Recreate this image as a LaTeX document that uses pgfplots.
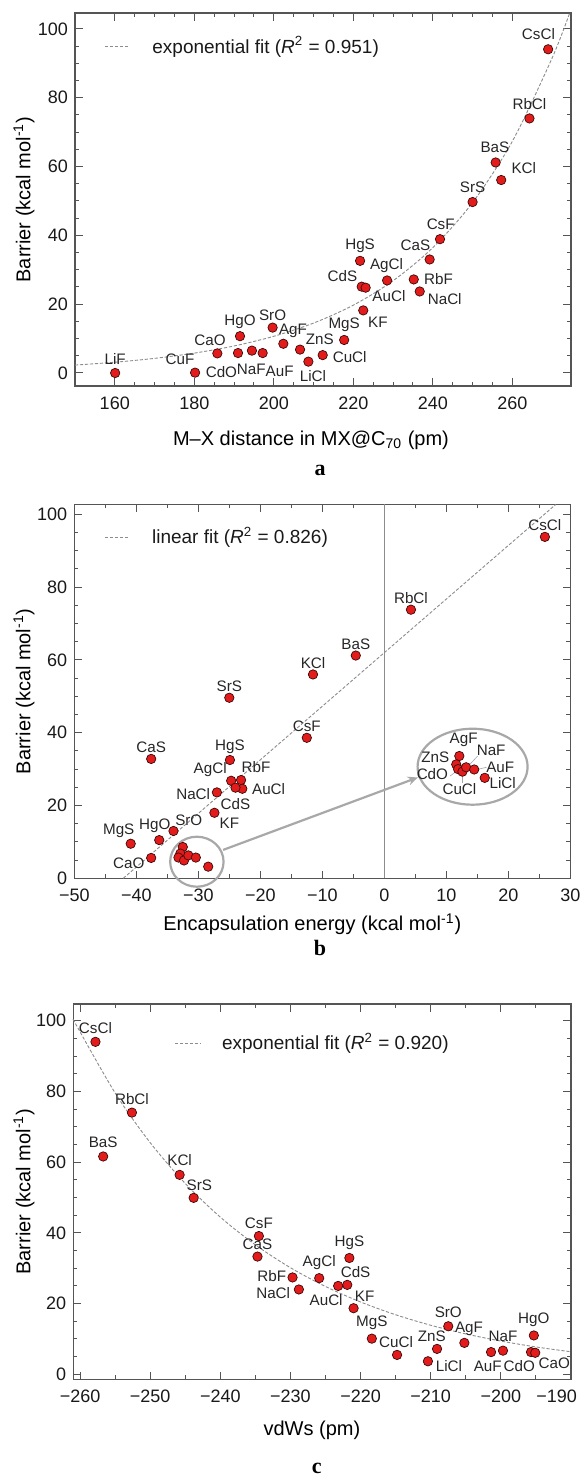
\documentclass[border=0pt]{standalone}
\usepackage{fontspec}
\setmainfont{Liberation Sans}
\newfontfamily\letterfont{Liberation Serif}
\usepackage{pgfplots}
\pgfplotsset{compat=1.18}
\usetikzlibrary{arrows.meta}

\definecolor{ptred}{HTML}{E31B1B}
\definecolor{ptedge}{HTML}{3A0A0A}
\definecolor{framegray}{HTML}{555555}
\definecolor{fitgray}{HTML}{8C8C8C}
\definecolor{ringgray}{HTML}{A8A8A8}

\tikzset{fitline/.style={draw=fitgray, line width=0.45pt, dash pattern=on 1.6pt off 0.9pt}}

\pgfplotsset{
  panel/.style={
    scale only axis, anchor=north west, clip=false,
    axis line style={draw=framegray, line width=0.6pt},
    tick style={draw=framegray, line width=0.5pt},
    major tick length=3.8pt, minor tick length=2pt,
    tick align=inside,
    tick label style={font=\fontsize{9}{10}\selectfont, text=black!90},
    xticklabel style={yshift=-2pt},
    /pgf/number format/assume math mode=true,
    ytick={0,20,...,100}, minor y tick num=3,
    label style={font=\fontsize{9}{10}\selectfont, text=black!90},
    every axis y label/.style={rotate=90, anchor=center},
    every axis x label/.style={anchor=center},
    ylabel={Barrier (kcal mol\textsuperscript{-1})},
  },
  pts/.style={
    only marks, mark=*, mark size=2.35pt,
    mark options={fill=ptred, draw=ptedge, line width=0.35pt},
    nodes near coords, point meta=explicit symbolic,
    visualization depends on={value \thisrow{dx}\as\dx},
    visualization depends on={value \thisrow{dy}\as\dy},
    every node near coord/.append style={anchor=center, xshift=\dx pt, yshift=\dy pt,
      inner sep=0pt, font=\fontsize{7.6}{8}\selectfont, text=black!85},
  },
  dots/.style={only marks, mark=*, mark size=2.35pt,
    mark options={fill=ptred, draw=ptedge, line width=0.35pt}},
  fit/.style={no marks, fitline},
}

\begin{document}
\begin{tikzpicture}
\useasboundingbox (0,0) rectangle (292.5pt,-740.5pt);

% ---------------- panel a ----------------
\begin{axis}[panel,
  at={(37.5pt,-6.5pt)}, width=248pt, height=186.5pt,
  xmin=150, xmax=274.75, ymin=-3.78, ymax=104.65,
  xtick={160,180,...,260}, minor x tick num=3,
  xlabel={M–X distance in MX@C\textsubscript{70} (pm)},
  xlabel style={at={(axis description cs:0.4758,-0.1448)}},
  ylabel style={at={(axis description cs:-0.1028,0.5)}},
]
\addplot[fit, smooth] coordinates {
  (150,2.30) (160,3.13) (170,4.25) (180,5.78) (190,7.85) (200,10.67)
  (210,14.51) (220,19.72) (230,26.81) (240,36.45) (250,49.55)
  (260,67.35) (270,91.56) (274.4,104.6)
};
\addplot[pts] table[x=x, y=y, meta=lab] {
x y dx dy lab
269.0 94.1 -4.85 7.5 CsCl
264.3 74.0 0 7.15 RbCl
255.8 61.2 -0.35 7.8 BaS
257.2 56.1 11.3 6.15 KCl
250.0 49.7 0 7.15 SrS
241.8 38.9 0.35 7.3 CsF
239.2 33.0 -7.15 7.15 CaS
221.7 32.6 0 7.5 HgS
228.5 26.9 -0.3 7.3 AgCl
235.2 27.2 12.35 0 RbF
236.7 23.7 12.5 -4 NaCl
222.1 25.1 -9.65 5.35 CdS
223.1 24.8 11.65 -4.15 AuCl
222.5 18.2 7.3 -5.7 KF
217.7 9.6 0 7.5 MgS
212.3 5.2 13.5 -1.15 CuCl
208.7 3.3 2.3 -7.15 LiCl
206.6 6.8 9.85 5.2 ZnS
202.4 8.5 4.8 6.5 AgF
199.7 13.2 0 6.35 SrO
191.5 10.7 0 7.3 HgO
185.8 5.7 -3.65 6.65 CaO
191.0 5.8 -8.3 -9.35 CdO
194.5 6.5 -0.3 -9.3 NaF
197.2 5.8 8.5 -9.35 AuF
180.2 0.1 -7.5 6.7 CuF
160.1 0.0 0 7.2 LiF
};
\draw[fitline] (axis description cs:0.0605,0.9097) -- (axis description cs:0.1109,0.9097);
\node[anchor=west, inner sep=0pt, font=\fontsize{9.5}{11}\selectfont, text=black!90]
  at (axis description cs:0.1552,0.9097) {exponential fit (\textit{R}\textsuperscript{2} = 0.951)};
\end{axis}

% ---------------- panel b ----------------
\begin{axis}[panel,
  at={(37.15pt,-252.15pt)}, width=248pt, height=187pt,
  xmin=-50, xmax=30, ymin=0, ymax=102.75,
  xtick={-50,-40,...,30}, minor x tick num=1,
  xticklabels={−50,−40,−30,−20,−10,0,10,20,30},
  xlabel={Encapsulation energy (kcal mol\textsuperscript{-1})},
  xlabel style={at={(axis description cs:0.4798,-0.123)}},
  ylabel style={at={(axis description cs:-0.1014,0.5)}},
]
\draw[draw=gray!90, line width=0.6pt] (axis cs:0,0) -- (axis cs:0,102.75);
\addplot[fit] coordinates {(-42.1,0) (27.65,102.7)};
\addplot[pts] table[x=x, y=y, meta=lab] {
x y dx dy lab
25.9 93.8 0 5.85 CsCl
4.3 73.8 0 5.7 RbCl
-4.6 61.2 0 5.85 BaS
-11.5 56.0 0 5.8 KCl
-25.0 49.6 0 5.85 SrS
-12.5 38.6 0 6 CsF
-37.6 32.8 0 5.85 CaS
-24.9 32.5 0 6.65 HgS
-24.7 26.8 -10.5 5.7 AgCl
-23.1 27.0 7.5 6.65 RbF
-22.9 24.6 13.15 0 AuCl
-24.0 24.9 0 -8.15 CdS
-27.0 23.6 -11.85 -0.8 NaCl
-27.4 18.0 7.5 -5 KF
-34.0 13.0 7.65 5.5 SrO
-36.3 10.5 -2.2 7 HgO
-40.9 9.5 -6 6.5 MgS
-37.6 5.6 -11.2 -2.65 CaO
};
\addplot[dots] coordinates {
  (-32.5,8.6) (-32.9,6.8) (-33.2,5.7) (-32.3,4.9) (-31.6,6.3) (-30.4,5.7) (-28.4,3.2)
};
% inset
\draw[ringgray, line width=1.1pt] (axis cs:14.24,30.66) ellipse [x radius=27.5pt, y radius=19pt];
\draw[ringgray, line width=1.1pt] (axis cs:-30.23,4.56) ellipse [x radius=13.35pt, y radius=12.5pt];
\draw[ringgray, line width=1.1pt, -{Stealth[length=5pt, width=4.5pt]}] (axis cs:-26.0,7.8) -- (axis cs:5.4,27.7);
\draw[gray!70, line width=0.3pt] (axis cs:13.45,30.66) -- (axis cs:15.05,33.6);
\draw[gray!70, line width=0.3pt] (axis cs:15.2,30.0) -- (axis cs:16.5,30.5);
\draw[gray!70, line width=0.3pt] (axis cs:10.6,28.1) -- (axis cs:11.8,29.6);
\draw[gray!70, line width=0.3pt] (axis cs:12.5,28.65) -- (axis cs:12.5,26.3);
\addplot[pts] table[x=x, y=y, meta=lab] {
x y dx dy lab
12.1 33.6 2.15 8 AgF
11.6 31.3 -10.5 3.5 ZnS
11.9 30.0 -12.85 -2.65 CdO
12.6 29.3 -1.5 -8.65 CuCl
13.2 30.5 12.5 8.3 NaF
14.5 29.9 13 1.3 AuF
16.2 27.6 9 -2.65 LiCl
};
\draw[fitline] (axis description cs:0.0619,0.9118) -- (axis description cs:0.1123,0.9118);
\node[anchor=west, inner sep=0pt, font=\fontsize{9.5}{11}\selectfont, text=black!90]
  at (axis description cs:0.156,0.9118) {linear fit (\textit{R}\textsuperscript{2} = 0.826)};
\end{axis}

% ---------------- panel c ----------------
\begin{axis}[panel,
  at={(36.65pt,-502pt)}, width=248.85pt, height=187.65pt,
  xmin=-260.96, xmax=-190, ymin=-1.4, ymax=104.7,
  xtick={-260,-250,...,-190}, minor x tick num=1,
  xticklabels={−260,−250,−240,−230,−220,−210,−200,\makebox[0pt][r]{−190\kern-3pt}},
  xlabel={vdWs (pm)},
  xlabel style={at={(axis description cs:0.4795,-0.1351)}},
  ylabel style={at={(axis description cs:-0.0991,0.5)}},
]
\addplot[fit, smooth] coordinates {
  (-261,100.4) (-255,79.55) (-250,65.52) (-245,53.97) (-240,44.45)
  (-235,36.61) (-230,30.15) (-225,24.84) (-220,20.46) (-215,16.85)
  (-210,13.88) (-205,11.43) (-200,9.42) (-195,7.75) (-190,6.39)
};
\addplot[pts] table[x=x, y=y, meta=lab] {
x y dx dy lab
-257.8 94.0 0 6.85 CsCl
-252.6 74.0 0 6.85 RbCl
-256.7 61.6 0 7 BaS
-245.8 56.4 0 7.15 KCl
-243.8 49.9 2.85 6.5 SrS
-234.5 39.1 0 6.35 CsF
-234.7 33.3 0 6.35 CaS
-221.6 32.9 0 7.65 HgS
-229.7 27.4 -10.35 0.8 RbF
-225.9 27.2 0 7.85 AgCl
-221.9 25.3 4.15 6.2 CdS
-223.2 25.0 -6 -7 AuCl
-228.8 24.0 -12.85 -1.7 NaCl
-221.0 18.7 5.5 5.8 KF
-218.4 10.1 0 7.7 MgS
-214.8 5.5 -0.5 6.65 CuCl
-209.1 7.2 -2.65 6.35 ZnS
-210.4 3.7 10.5 -2.35 LiCl
-207.5 13.6 0 7 SrO
-205.2 8.9 2.3 7.2 AgF
-199.7 6.7 0 7 NaF
-201.4 6.3 -1.65 -7 AuF
-195.7 6.3 -5.85 -7 CdO
-195.3 11.0 0 8 HgO
-195.1 6.1 9.5 -5 CaO
};
\draw[fitline] (axis description cs:0.2043,0.8953) -- (axis description cs:0.2546,0.8953);
\node[anchor=west, inner sep=0pt, font=\fontsize{9.5}{11}\selectfont, text=black!90]
  at (axis description cs:0.2982,0.8953) {exponential fit (\textit{R}\textsuperscript{2} = 0.920)};
\end{axis}

% panel letters
\node[font=\letterfont\bfseries\fontsize{11}{12}\selectfont] at (160pt,-235pt) {a};
\node[font=\letterfont\bfseries\fontsize{11}{12}\selectfont] at (160pt,-474pt) {b};
\node[font=\letterfont\bfseries\fontsize{11}{12}\selectfont, inner sep=0pt] at (158.35pt,-734pt) {c};
\end{tikzpicture}
\end{document}
